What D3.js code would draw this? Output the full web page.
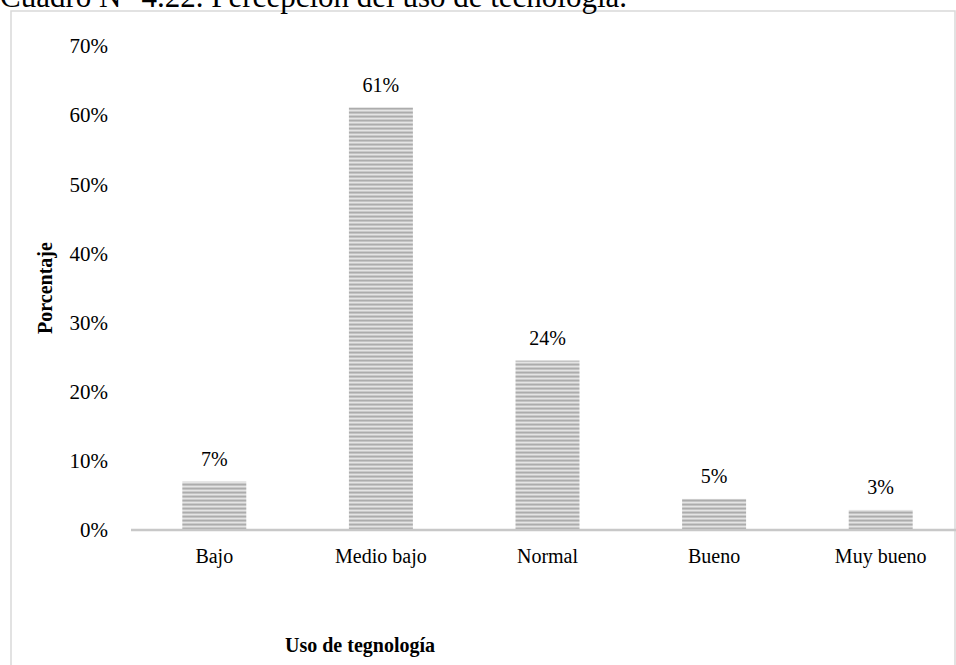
<!DOCTYPE html>
<meta charset="utf-8">
<style>
  body { margin: 0; background: #fff; }
  text { font-family: "Liberation Serif", "Times New Roman", serif; fill: #000; }
</style>
<body>
<script src="https://d3js.org/d3.v7.min.js"></script>
<script>

  var categories = ["Bajo", "Medio bajo", "Normal", "Bueno", "Muy bueno"];
  var values = [0.07, 0.611, 0.245, 0.045, 0.029];
  var valueLabels = ["7%", "61%", "24%", "5%", "3%"];
  var yTicks = [0, 0.1, 0.2, 0.3, 0.4, 0.5, 0.6, 0.7];

  var width = 956, height = 665;

  var svg = d3.select("body").append("svg")
    .attr("width", width)
    .attr("height", height);

  // striped fill for the bars
  var pat = svg.append("defs").append("pattern")
    .attr("id", "stripes")
    .attr("patternUnits", "userSpaceOnUse")
    .attr("width", 8).attr("height", 4);
  pat.append("rect").attr("width", 8).attr("height", 4).attr("fill", "#cacaca");
  pat.append("rect").attr("y", 0).attr("width", 8).attr("height", 1.2).attr("fill", "#acacac");
  pat.append("rect").attr("y", 2).attr("width", 8).attr("height", 1).attr("fill", "#e4e4e4");

  // chart frame
  svg.append("rect")
    .attr("x", 11).attr("y", 11)
    .attr("width", 944).attr("height", 700)
    .attr("fill", "none")
    .attr("stroke", "#d9d9d9")
    .attr("stroke-width", 1.5);

  svg.append("text")
    .attr("x", 0).attr("y", 7)
    .style("font-size", "31px")
    .text("Cuadro N° 4.22. Percepción del uso de tecnología.");

  var x = d3.scaleBand()
    .domain(categories)
    .range([131, 964])
    .paddingInner(0.616)
    .paddingOuter(0.308);

  var y = d3.scaleLinear()
    .domain([0, 0.7])
    .range([530, 46]);

  // y tick labels
  svg.selectAll(".ytick")
    .data(yTicks)
    .enter().append("text")
    .attr("class", "ytick")
    .attr("x", 108)
    .attr("y", function (d) { return y(d); })
    .attr("dy", "0.35em")
    .attr("text-anchor", "end")
    .style("font-size", "21px")
    .text(function (d) { return Math.round(d * 100) + "%"; });

  svg.selectAll(".bar")
    .data(values)
    .enter().append("rect")
    .attr("class", "bar")
    .attr("x", function (d, i) { return x(categories[i]); })
    .attr("y", function (d) { return y(d); })
    .attr("width", x.bandwidth())
    .attr("height", function (d) { return y(0) - y(d); })
    .attr("fill", "url(#stripes)");

  svg.selectAll(".vlabel")
    .data(values)
    .enter().append("text")
    .attr("class", "vlabel")
    .attr("x", function (d, i) { return x(categories[i]) + x.bandwidth() / 2; })
    .attr("y", function (d) { return y(d) - 16; })
    .attr("text-anchor", "middle")
    .style("font-size", "20px")
    .text(function (d, i) { return valueLabels[i]; });

  // baseline
  svg.append("line")
    .attr("x1", 131).attr("x2", 964)
    .attr("y1", y(0)).attr("y2", y(0))
    .attr("stroke", "#c8c8c8")
    .attr("stroke-width", 2.5);

  svg.selectAll(".xlabel")
    .data(categories)
    .enter().append("text")
    .attr("class", "xlabel")
    .attr("x", function (d) { return x(d) + x.bandwidth() / 2; })
    .attr("y", 563)
    .attr("text-anchor", "middle")
    .style("font-size", "20px")
    .text(function (d) { return d; });

  svg.append("text")
    .attr("x", 360).attr("y", 652)
    .attr("text-anchor", "middle")
    .style("font-size", "20px")
    .style("font-weight", "bold")
    .text("Uso de tegnología");

  svg.append("text")
    .attr("transform", "translate(52,288) rotate(-90)")
    .attr("text-anchor", "middle")
    .style("font-size", "20px")
    .style("font-weight", "bold")
    .text("Porcentaje");

</script>
</body>
</html>
